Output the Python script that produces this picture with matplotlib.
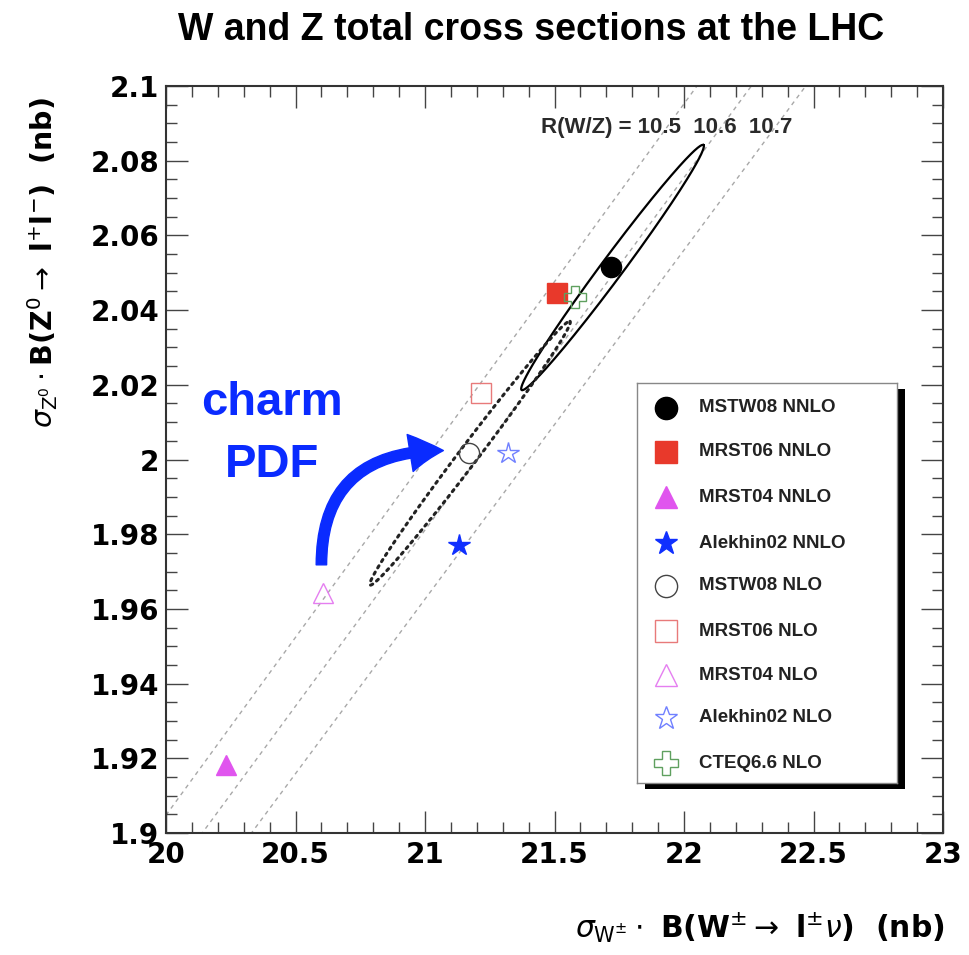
import matplotlib as mpl

mpl.use("Agg")

import matplotlib.pyplot as plt
import numpy as np
from matplotlib.patches import Rectangle
from matplotlib.ticker import FuncFormatter, MultipleLocator

IMAGE_DPI = 100.0
FIG_W, FIG_H = 969, 955

# PDF sets and their predicted cross sections (nb)
PDF_NAMES = [
    "MSTW08 NNLO",
    "MRST06 NNLO",
    "MRST04 NNLO",
    "Alekhin02 NNLO",
    "MSTW08 NLO",
    "MRST06 NLO",
    "MRST04 NLO",
    "Alekhin02 NLO",
    "CTEQ6.6 NLO",
]
SIGMA_W = [21.72, 21.51, 20.23, 21.13, 21.17, 21.215, 20.605, 21.32, 21.58]
SIGMA_Z = [2.0516, 2.0445, 1.9182, 1.9771, 2.0017, 2.0179, 1.9642, 2.0017, 2.0436]

# marker, face, edge
MARKER_STYLE = [
    ("o", "black", "black"),
    ("s", "#e8392b", "#e8392b"),
    ("^", "#e055ee", "#e055ee"),
    ("*", "#1030ff", "#1030ff"),
    ("o", "none", "#444444"),
    ("s", "none", "#e87a7a"),
    ("^", "none", "#e57ef0"),
    ("*", "none", "#7080ff"),
    ("P", "none", "#5fa05f"),
]

RATIO_VALUES = [10.5, 10.6, 10.7]

# 68% C.L. ellipses: centre, major half-axis, minor half-axis (data units)
NNLO_CENTRE = (21.724, 2.0514)
NNLO_MAJOR = (0.351, 0.0328)
NNLO_MINOR = (0.034, -0.00175)
NLO_CENTRE = (21.174, 2.0017)
NLO_MAJOR = (0.386, 0.0353)
NLO_MINOR = (0.029, -0.00152)

BLUE = "#0a2bff"
LIB = "Liberation Sans"
DEJ = "DejaVu Sans"


def px_x(p):
    return p / FIG_W


def px_y(p):
    return 1 - p / FIG_H


def ellipse(centre, major, minor):
    t = np.linspace(0, 2 * np.pi, 300)
    x = centre[0] + major[0] * np.cos(t) + minor[0] * np.sin(t)
    y = centre[1] + major[1] * np.cos(t) + minor[1] * np.sin(t)
    return x, y


def fmt_tick(v, _pos):
    return f"{v:.2f}".rstrip("0").rstrip(".")


fig = plt.figure(figsize=(FIG_W / IMAGE_DPI, FIG_H / IMAGE_DPI), dpi=IMAGE_DPI, facecolor="white")
ax = fig.add_axes([px_x(166), px_y(833), 777 / FIG_W, 747 / FIG_H])

ax.set_xlim(20, 23)
ax.set_ylim(1.9, 2.1)

# constant W/Z ratio lines
xl = np.array(ax.get_xlim())
for r in RATIO_VALUES:
    ax.plot(xl, xl / r, color="#a8a8a8", linewidth=1.0, linestyle=(0, (3, 3)), zorder=1)

ex, ey = ellipse(NNLO_CENTRE, NNLO_MAJOR, NNLO_MINOR)
ax.plot(ex, ey, color="black", linewidth=1.6, zorder=2)
ex, ey = ellipse(NLO_CENTRE, NLO_MAJOR, NLO_MINOR)
ax.plot(ex, ey, color="#222222", linewidth=2.2, linestyle=(0, (0.8, 1.6)),
        dash_capstyle="round", zorder=2)

for xv, yv, (m, fc, ec) in zip(SIGMA_W, SIGMA_Z, MARKER_STYLE):
    ms = 16 if m in ("*", "P") else 14.5
    ax.plot(xv, yv, marker=m, markersize=ms, markerfacecolor=fc, markeredgecolor=ec,
            markeredgewidth=1.0, linestyle="none", zorder=3)

ax.text(21.448, 2.0874, "R(W/Z) = 10.5  10.6  10.7", family=LIB, fontsize=16,
        fontweight="bold", color="#2a2a2a", ha="left", va="baseline")

# axes styling
ax.xaxis.set_major_locator(MultipleLocator(0.5))
ax.xaxis.set_minor_locator(MultipleLocator(0.1))
ax.yaxis.set_major_locator(MultipleLocator(0.02))
ax.yaxis.set_minor_locator(MultipleLocator(0.005))
ax.xaxis.set_major_formatter(FuncFormatter(fmt_tick))
ax.yaxis.set_major_formatter(FuncFormatter(fmt_tick))
ax.tick_params(which="both", direction="in", top=True, right=True, color="#444444", width=1.0)
ax.tick_params(which="major", length=15.5)
ax.tick_params(which="minor", length=8)
ax.tick_params(axis="x", which="major", pad=6)
ax.tick_params(axis="y", which="major", pad=5)
for lab in ax.get_xticklabels() + ax.get_yticklabels():
    lab.set_fontfamily(DEJ)
    lab.set_fontweight("bold")
    lab.set_fontsize(20)
for sp in ax.spines.values():
    sp.set_linewidth(1.5)
    sp.set_color("#333333")

ax.set_xlabel(r"$\sigma_{\mathrm{W}^{\pm}}\cdot$ B(W$^{\pm}\rightarrow$ l$^{\pm}\nu$)  (nb)",
              loc="right", family=DEJ, fontweight="bold", fontsize=21.5)
ax.xaxis.set_label_coords(1.0026, -0.104)
ax.set_ylabel(r"$\sigma_{\mathrm{Z}^{0}}\cdot$B(Z$^{0}\rightarrow$ l$^{+}$l$^{-}$)  (nb)",
              loc="top", family=DEJ, fontweight="bold", fontsize=20.5)
ax.yaxis.set_label_coords(-0.1364, 0.985)

fig.text(px_x(531), px_y(30), "W and Z total cross sections at the LHC", family=LIB,
         fontweight="bold", fontsize=27, ha="center", va="center")

# charm PDF annotation
ax.text(20.409, 2.0119, "charm", family=LIB, fontweight="bold", fontsize=34, color=BLUE,
        ha="center", va="baseline", zorder=4)
ax.text(20.409, 1.9953, "PDF", family=LIB, fontweight="bold", fontsize=34, color=BLUE,
        ha="center", va="baseline", zorder=4)
ax.annotate(
    "",
    xy=(21.071, 2.0024),
    xytext=(20.600, 1.9718),
    arrowprops=dict(
        arrowstyle="simple,head_length=2.4,head_width=2.7,tail_width=0.75",
        connectionstyle="angle3,angleA=90,angleB=0",
        color=BLUE,
        mutation_scale=10,
        shrinkA=0,
        shrinkB=0,
    ),
    zorder=4,
)

# legend box with drop shadow
leg_l, leg_t, leg_r, leg_b = 637, 383, 897, 783
shadow = Rectangle((px_x(leg_l + 8), px_y(leg_b + 6)), (leg_r - leg_l) / FIG_W, (leg_b - leg_t) / FIG_H,
                   transform=fig.transFigure, facecolor="black", edgecolor="none", clip_on=False, zorder=5)
ax.add_artist(shadow)

lax = fig.add_axes([px_x(leg_l), px_y(leg_b), (leg_r - leg_l) / FIG_W, (leg_b - leg_t) / FIG_H])
lax.set_zorder(10)
lax.set_xlim(0, 1)
lax.set_ylim(0, 1)
lax.set_xticks([])
lax.set_yticks([])
for sp in lax.spines.values():
    sp.set_linewidth(1.0)
    sp.set_color("#888888")

row_px = [408, 452, 497, 543, 586, 631, 675, 718, 763]
for name, (m, fc, ec), rp in zip(PDF_NAMES, MARKER_STYLE, row_px):
    yy = (leg_b - rp) / (leg_b - leg_t)
    ms = 17 if m in ("*", "P") else 16
    lax.plot(0.1115, yy, marker=m, markersize=ms, markerfacecolor=fc, markeredgecolor=ec,
             markeredgewidth=1.0, linestyle="none")
    lax.text(0.2385, yy, name, family=LIB, fontweight="bold", fontsize=13.5, color="#222222",
             ha="left", va="center")

fig.savefig("out.png", dpi=IMAGE_DPI, facecolor="white")
